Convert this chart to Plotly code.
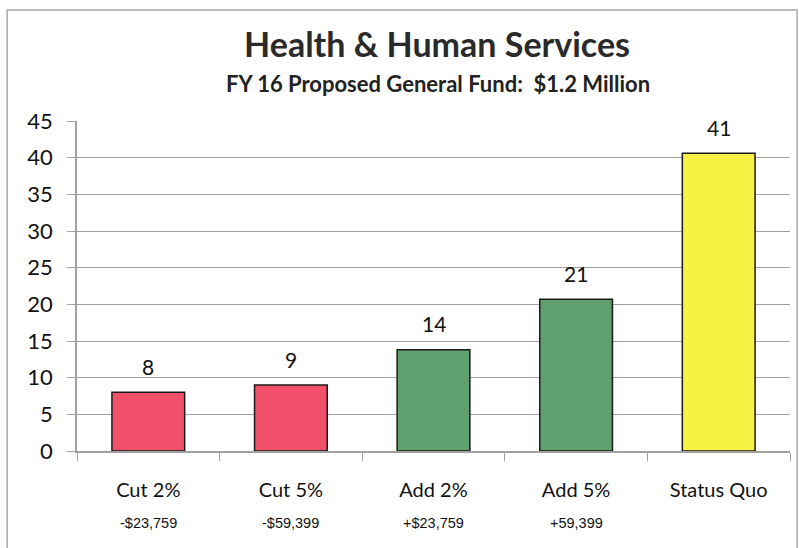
import plotly.graph_objects as go

# chart data
categories = ['Cut 2%', 'Cut 5%', 'Add 2%', 'Add 5%', 'Status Quo']
amounts = ['-$23,759', '-$59,399', '+$23,759', '+59,399', '']
values = [8.0, 9.0, 13.8, 20.7, 40.6]
y_ticks = [0, 5, 10, 15, 20, 25, 30, 35, 40, 45]

# colours per bar: cuts red, adds green, status quo yellow
bar_colours = ['#F2506A', '#F2506A', '#5FA06E', '#5FA06E', '#F8F244']

FONT = 'Lato'
GRID = '#A0A0A0'

fig = go.Figure()

fig.add_trace(go.Bar(
    x=categories,
    y=values,
    width=0.51,
    marker=dict(color=bar_colours, line=dict(color='#1a1a1a', width=1.5)),
    hoverinfo='x+y',
))

# value labels above the bars (excel puts them a bit higher than plotly does)
for cat, val in zip(categories, values):
    fig.add_annotation(
        x=cat, y=val, xref='x', yref='y',
        text=f'{val:.0f}', showarrow=False,
        yanchor='middle', yshift=26,
        font=dict(family=FONT, size=21, color='#111111'),
    )

# second line of category labels (dollar amounts)
for cat, amt in zip(categories, amounts):
    if amt:
        fig.add_annotation(
            x=cat, y=-0.218, xref='x', yref='paper',
            text=amt, showarrow=False, yanchor='middle',
            font=dict(family='Liberation Sans', size=14.5, color='#111111'),
        )

# subtitle
fig.add_annotation(
    x=0.506, y=1.115, xref='paper', yref='paper',
    text='<b>FY 16 Proposed General Fund:  $1.2 Million</b>',
    showarrow=False, yanchor='middle',
    font=dict(family=FONT, size=22, color='#222222'),
)

# thin frame around the whole chart
fig.add_shape(
    type='rect', xref='paper', yref='paper',
    x0=-0.098, x1=1.01, y0=-0.3, y1=1.336,
    line=dict(color='#A8A8A8', width=1.5),
)

fig.update_layout(
    title=dict(
        text='<b>Health & Human Services</b>',
        x=0.547, xanchor='center',
        y=0.918, yanchor='middle', yref='container',
        font=dict(family=FONT, size=34, color='#2a2a2a'),
    ),
    width=799,
    height=548,
    margin=dict(l=77, r=9, t=121, b=97),
    paper_bgcolor='white',
    plot_bgcolor='white',
    showlegend=False,
    bargap=0.49,
)

fig.update_yaxes(
    range=[0, 45],
    tickvals=y_ticks,
    gridcolor=GRID,
    gridwidth=1,
    showline=True,
    linecolor=GRID,
    linewidth=1.5,
    ticks='outside',
    ticklen=8,
    tickcolor=GRID,
    tickfont=dict(family=FONT, size=22, color='#111111'),
    ticklabelstandoff=10,
    zeroline=False,
)

fig.update_xaxes(
    showline=True,
    linecolor=GRID,
    linewidth=1.5,
    ticks='outside',
    tickson='boundaries',
    ticklen=8,
    tickcolor=GRID,
    tickfont=dict(family=FONT, size=20, color='#111111'),
    ticklabelstandoff=20,
)

fig.write_html('out.html', config={'displayModeBar': False})

# drop the default body margin so the figure sits at the page corner
with open('out.html', encoding='utf-8') as f:
    html = f.read()
html = html.replace('<body>', '<body style="margin:0">', 1)
with open('out.html', 'w', encoding='utf-8') as f:
    f.write(html)
